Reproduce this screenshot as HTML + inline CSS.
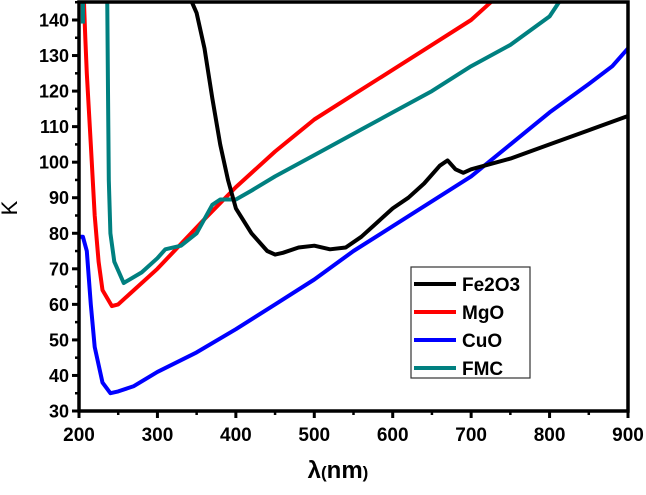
<!DOCTYPE html>
<html><head><meta charset="utf-8"><style>
html,body{margin:0;padding:0;background:#fff;}
svg{display:block;font-family:"Liberation Sans",Arial,sans-serif;font-weight:bold;}
</style></head><body>
<svg id="chart" width="646" height="495" viewBox="0 0 646 495">
<defs><clipPath id="plotclip"><rect x="79" y="2" width="549" height="409"/></clipPath></defs>
<g id="series" clip-path="url(#plotclip)"></g>
<g id="axes"></g>
</svg>
<script>
const xTicks = [200,300,400,500,600,700,800,900];
const yTicks = [30,40,50,60,70,80,90,100,110,120,130,140];
const seriesNames = ["Fe2O3","MgO","CuO","FMC"];
const seriesColors = ["#000000","#ff0000","#0000ff","#008080"];
const fe2o3X = [340,350,360,370,380,390,400,420,440,450,460,480,500,520,540,560,580,600,620,640,660,670,680,690,700,750,800,850,900];
const fe2o3Y = [147,142,132,118,105,95,87,80,75,74,74.5,76,76.5,75.5,76,79,83,87,90,94,99,100.5,98,97,98,101,105,109,113];
const mgoX = [206,208,210,215,220,225,230,242,250,270,300,330,360,400,450,500,550,600,650,700,720,740];
const mgoY = [147,135,125,105,85,72,64,59.5,60,64,70,77,84,93,103,112,119,126,133,140,144,148];
const cuoX = [200,205,210,215,220,230,240,250,270,300,350,400,450,500,550,600,650,700,750,800,850,880,900];
const cuoY = [79,79,75,60,48,38,35,35.5,37,41,46.5,53,60,67,75,82,89,96,105,114,122,127,132];
const fmcX = [236,237,238,240,245,257,280,300,310,330,350,370,380,400,420,450,500,550,600,650,700,750,800,815];
const fmcY = [147,120,95,80,72,66,69,73,75.5,76.5,80,88,89.5,89.5,92,96,102,108,114,120,127,133,141,146];
const fmcTopX = [205,205];
const fmcTopY = [139,147];

const X0=79,X1=628,Y0=411,Y1=20;
function sx(v){return X0+(v-200)*(X1-X0)/700;}
function sy(v){return Y0-(v-30)*(Y0-Y1)/110;}
const NS="http://www.w3.org/2000/svg";
function mk(tag,attrs,parent){const e=document.createElementNS(NS,tag);for(const k in attrs)e.setAttribute(k,attrs[k]);parent.appendChild(e);return e;}
const sg=document.getElementById('series');
const ag=document.getElementById('axes');
const all=[[fe2o3X,fe2o3Y],[mgoX,mgoY],[cuoX,cuoY],[fmcX,fmcY]];
const order=[2,1,3,0];
order.forEach(i=>{
  const [xs,ys]=all[i];
  const p=mk('path',{d:xs.map((x,j)=>(j?'L':'M')+sx(x).toFixed(1)+','+sy(ys[j]).toFixed(1)).join(''),fill:'none',stroke:seriesColors[i],'stroke-width':4,'stroke-linejoin':'round'},sg);
  
  
});
const tp=mk('path',{d:fmcTopX.map((x,j)=>(j?'L':'M')+sx(x)+','+sy(fmcTopY[j])).join(''),fill:'none',stroke:seriesColors[3],'stroke-width':4},sg);


const fr=mk('rect',{x:X0,y:2,width:X1-X0,height:Y0-2,fill:'none',stroke:'#000','stroke-width':3.5},ag);


xTicks.forEach((t,i)=>{
  const x=sx(t);
  const l=mk('line',{x1:x,y1:Y0,x2:x,y2:Y0+7,stroke:'#000','stroke-width':3},ag);
  
  
  if(i<xTicks.length-1){const m=mk('line',{x1:sx(t+50),y1:Y0,x2:sx(t+50),y2:Y0+4,stroke:'#000','stroke-width':2.5},ag);
  
  }
  const tx=mk('text',{x:x,y:441,'text-anchor':'middle','font-size':19},ag);tx.textContent=t;
  
  
});
yTicks.forEach((t,i)=>{
  const y=sy(t);
  const l=mk('line',{x1:X0-7,y1:y,x2:X0,y2:y,stroke:'#000','stroke-width':3},ag);
  
  
  const m=mk('line',{x1:X0-4,y1:sy(t+5),x2:X0,y2:sy(t+5),stroke:'#000','stroke-width':2.5},ag);
  
  
  const tx=mk('text',{x:X0-10,y:y+6.5,'text-anchor':'end','font-size':18},ag);tx.textContent=t;
  
  
});
const xl=mk('text',{x:338,y:478,'text-anchor':'middle','font-size':24},ag);
xl.innerHTML='λ<tspan font-size="17">(</tspan>nm<tspan font-size="17">)</tspan>';


const yl=mk('text',{x:0,y:0,'text-anchor':'middle','font-size':22,'font-weight':'normal',transform:'translate(17,208) rotate(-90)'},ag);
yl.textContent='K';


const lg=mk('g',{},ag);


mk('rect',{x:411,y:267,width:119,height:111,fill:'#fff',stroke:'#333','stroke-width':1.2},lg);
seriesNames.forEach((n,i)=>{
  const y=284+i*28;
  const e=mk('g',{},lg);
  
  
  mk('line',{x1:414,y1:y,x2:456,y2:y,stroke:seriesColors[i],'stroke-width':4},e);
  const t=mk('text',{x:462,y:y+7,'font-size':19},e);t.textContent=n;
});
</script>
</body></html>
